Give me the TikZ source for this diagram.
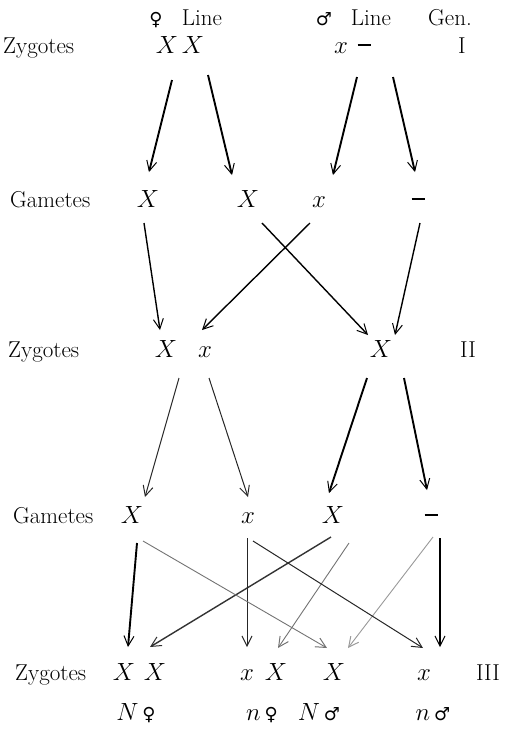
\documentclass[tikz,border=0pt]{standalone}
\usepackage{fontspec}
\newfontfamily\sym{DejaVu Sans}
\usetikzlibrary{arrows.meta}
\tikzset{
  lbl/.style={anchor=base, inner sep=0pt, font=\fontsize{23}{26}\selectfont},
  row/.style={anchor=base west, inner sep=0pt, font=\fontsize{23}{26}\selectfont},
  arr/.style={-{Straight Barb[length=10pt,width=10pt,line width=1pt]}, line width=1.9pt, black},
  arrm/.style={arr, line width=1.4pt},
  arrt/.style={arr, line width=1pt, black!85},
  arrl/.style={arr, line width=0.9pt, black!55},
}
\newcommand{\fem}{{\sym\fontsize{18}{20}\selectfont ♀}}
\newcommand{\mal}{{\sym\fontsize{18}{20}\selectfont ♂}}
\newcommand{\nul}{\raisebox{7pt}{\rule{13pt}{1.6pt}}}
\begin{document}
\begin{tikzpicture}[x=1pt,y=-1pt]
\useasboundingbox (0,0) rectangle (513,732);
% header
\node[lbl] (hf) at (156,25) {\fem};
\node[lbl] (hfl) at (202,25) {Line};
\node[lbl] (hm) at (324,25) {\mal};
\node[lbl] (hml) at (371,25) {Line};
\node[lbl] (hg) at (450,25) {Gen.};
% generation I
\node[row] (z1) at (3,53) {Zygotes};
\node[lbl] (z1a) at (167,53) {$X$};
\node[lbl] (z1b) at (193,53) {$X$};
\node[lbl] (z1c) at (341,53) {$x$};
\node[lbl] (z1d) at (364,53) {\nul};
\node[lbl] (g1) at (462,53) {I};
% gametes I
\node[row] (ga1) at (10,207) {Gametes};
\node[lbl] (ga1a) at (148,207) {$X$};
\node[lbl] (ga1b) at (248,207) {$X$};
\node[lbl] (ga1c) at (319,207) {$x$};
\node[lbl] (ga1d) at (418,207) {\nul};
% generation II
\node[row] (z2) at (8,357) {Zygotes};
\node[lbl] (z2a) at (166,357) {$X$};
\node[lbl] (z2b) at (205,357) {$x$};
\node[lbl] (z2c) at (381,357) {$X$};
\node[lbl] (g2) at (468,357) {II};
% gametes II
\node[row] (ga2) at (13,523) {Gametes};
\node[lbl] (ga2a) at (132,523) {$X$};
\node[lbl] (ga2b) at (248,523) {$x$};
\node[lbl] (ga2c) at (333,523) {$X$};
\node[lbl] (ga2d) at (431,523) {\nul};
% generation III
\node[row] (z3) at (15,680) {Zygotes};
\node[lbl] (z3a) at (124,680) {$X$};
\node[lbl] (z3b) at (155,680) {$X$};
\node[lbl] (z3c) at (247,680) {$x$};
\node[lbl] (z3d) at (276,680) {$X$};
\node[lbl] (z3e) at (334,680) {$X$};
\node[lbl] (z3f) at (424,680) {$x$};
\node[lbl] (g3) at (488,680) {III};
% phenotype labels
\node[lbl] (p1) at (136,720) {$N$\,\fem};
\node[lbl] (p2) at (262,720) {$n$\,\fem};
\node[lbl] (p3) at (319,720) {$N$\,\mal};
\node[lbl] (p4) at (433,720) {$n$\,\mal};
% connector end points
\coordinate (s1a) at (172,80);  \coordinate (e1a) at (149,172);
\coordinate (s1b) at (208,75);  \coordinate (e1b) at (232,175);
\coordinate (s1c) at (357,77);  \coordinate (e1c) at (333,175);
\coordinate (s1d) at (393,77);  \coordinate (e1d) at (415,172);
\coordinate (s2a) at (144,223); \coordinate (e2a) at (160,330);
\coordinate (s2c) at (310,223); \coordinate (e2b) at (202,330);
\coordinate (s2b) at (262,223); \coordinate (e2c) at (368,335);
\coordinate (s2d) at (420,223); \coordinate (e2d) at (395,335);
\coordinate (s3a) at (179,378); \coordinate (e3a) at (145,497);
\coordinate (s3b) at (209,378); \coordinate (e3b) at (248,497);
\coordinate (s3c) at (367,378); \coordinate (e3c) at (329,493);
\coordinate (s3d) at (404,378); \coordinate (e3d) at (427,490);
\coordinate (s4a) at (137,543); \coordinate (s4a2) at (143,541);
\coordinate (s4b) at (247,538); \coordinate (s4b2) at (253,541);
\coordinate (s4c) at (331,537); \coordinate (s4c2) at (349,543);
\coordinate (s4d) at (433,537); \coordinate (s4d2) at (440,538);
\coordinate (e4a) at (128,647); \coordinate (e4b) at (150,647);
\coordinate (e4c) at (247,647); \coordinate (e4d) at (278,648);
\coordinate (e4e) at (327,648); \coordinate (e4e2) at (348,648);
\coordinate (e4f) at (423,648); \coordinate (e4f2) at (440,647);
% generation I -> gametes
\draw[arr] (s1a) -- (e1a);
\draw[arr] (s1b) -- (e1b);
\draw[arr] (s1c) -- (e1c);
\draw[arr] (s1d) -- (e1d);
% gametes I -> generation II
\draw[arrm] (s2a) -- (e2a);
\draw[arrm] (s2c) -- (e2b);
\draw[arrm] (s2b) -- (e2c);
\draw[arrm] (s2d) -- (e2d);
% generation II -> gametes
\draw[arrt] (s3a) -- (e3a);
\draw[arrt] (s3b) -- (e3b);
\draw[arr] (s3c) -- (e3c);
\draw[arr] (s3d) -- (e3d);
% gametes II -> generation III
\draw[arr] (s4a) -- (e4a);
\draw[arrm, black!80] (s4c) -- (e4b);
\draw[arrt] (s4b) -- (e4c);
\draw[arrl] (s4c2) -- (e4d);
\draw[arrl] (s4a2) -- (e4e);
\draw[arrl, black!40] (s4d) -- (e4e2);
\draw[arrt] (s4b2) -- (e4f);
\draw[arr] (s4d2) -- (e4f2);
\end{tikzpicture}
\end{document}
